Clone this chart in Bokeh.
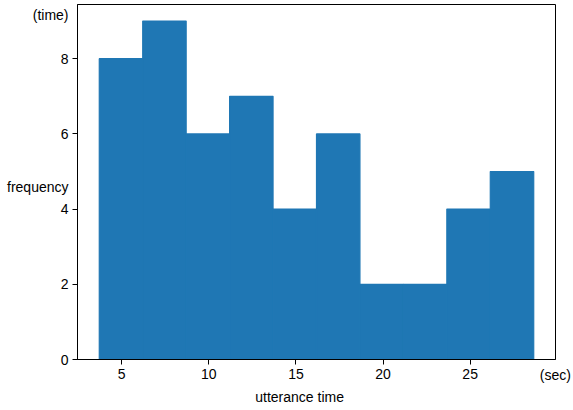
from bokeh.plotting import figure
from bokeh.models import Range1d, FixedTicker, LinearAxis
from bokeh.embed import file_html
from bokeh.resources import INLINE

edges = [3.71, 6.204, 8.698, 11.192, 13.686, 16.18, 18.674, 21.168, 23.662, 26.156, 28.65]
counts = [8, 9, 6, 7, 4, 6, 2, 2, 4, 5]
x_ticks = [5, 10, 15, 20, 25]
y_ticks = [0, 2, 4, 6, 8]

y_label_pos = [4.58, 9.149]
y_label_text = ["frequency", "(time)"]
x_unit_pos = [29.89]
x_unit_text = ["(sec)"]
x_label_pos = [15.21]
x_label_text = ["utterance time"]

FONT = "Liberation Sans"
FS = "14px"

p = figure(width=573, height=410, output_backend="svg", toolbar_location=None,
           x_range=Range1d(2.46, 29.9), y_range=Range1d(0, 9.441),
           min_border_left=77, min_border_right=18, min_border_top=4, min_border_bottom=51)

p.quad(left=edges[:-1], right=edges[1:], top=counts, bottom=0,
       fill_color="#1f77b4", line_color="#1f77b4", line_width=1.2)

p.xgrid.visible = False
p.ygrid.visible = False
p.outline_line_color = "black"
p.outline_line_width = 1


def style(ax, ticks):
    ax.ticker = FixedTicker(ticks=ticks)
    ax.minor_tick_line_color = None
    ax.major_tick_out = 5
    ax.major_tick_in = 0
    ax.major_label_standoff = 4
    ax.major_label_text_font = FONT
    ax.major_label_text_font_size = FS
    ax.major_label_text_color = "black"
    ax.axis_line_color = "black"
    ax.major_tick_line_color = "black"


style(p.xaxis[0], x_ticks)
style(p.yaxis[0], y_ticks)


def text_axis(positions, texts, standoff):
    ax = LinearAxis()
    style(ax, positions)
    ax.major_label_overrides = {pos: t for pos, t in zip(positions, texts)}
    ax.major_tick_out = 0
    ax.major_tick_line_color = None
    ax.axis_line_color = None
    ax.major_label_standoff = standoff
    return ax


p.add_layout(text_axis(y_label_pos, y_label_text, -11), "left")
p.add_layout(text_axis(x_unit_pos, x_unit_text, -15), "below")
p.add_layout(text_axis(x_label_pos, x_label_text, 3), "below")

open("out.html", "w").write(file_html(p, INLINE))
